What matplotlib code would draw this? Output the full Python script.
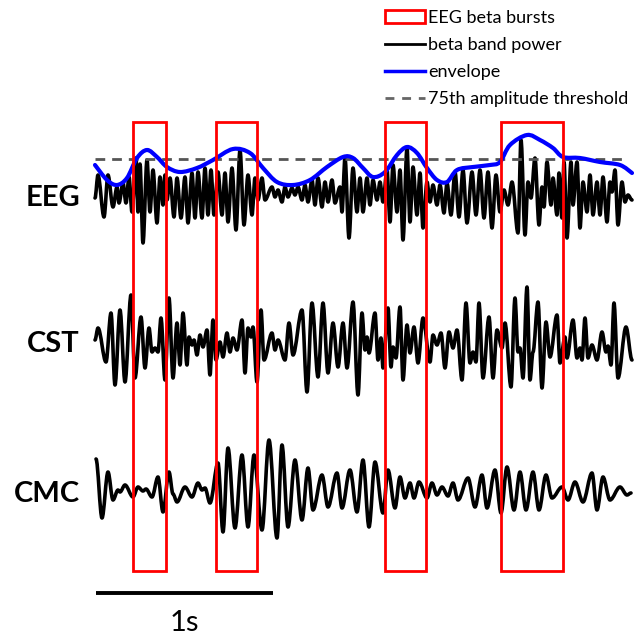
import matplotlib
matplotlib.use("Agg")
import matplotlib.pyplot as plt
from matplotlib.patches import Rectangle, Patch, PathPatch
from matplotlib.lines import Line2D
from matplotlib.path import Path

plt.rcParams['font.family'] = ['Lato', 'DejaVu Sans']

# ---------------- data (time in samples, fs = 177 Hz; amplitude in a.u.) ----------------
fs = 177

# EEG beta-band signal: successive peaks / troughs
eeg_t = [0, 3, 9, 13, 18, 22, 24, 28, 31, 34,
         37, 41, 43, 45, 48, 52, 55, 58, 62, 65,
         68, 70, 72, 75, 79, 82, 86, 90, 93, 97,
         100, 103, 107, 110, 113, 116, 119, 123, 127, 130,
         133, 137, 141, 145, 149, 153, 157, 160, 163, 167,
         170, 177, 180, 183, 187, 190, 193, 197, 200, 203,
         207, 210, 213, 217, 220, 223, 227, 230, 233, 237,
         240, 245, 247, 250, 254, 258, 262, 265, 268, 272,
         275, 278, 282, 285, 288, 292, 295, 298, 302, 305,
         308, 312, 315, 318, 322, 325, 328, 332, 335, 338,
         342, 345, 349, 352, 356, 360, 364, 368, 372, 377,
         381, 385, 389, 393, 397, 401, 405, 409, 413, 417,
         423, 426, 430, 433, 436, 440, 444, 447, 449, 452,
         456, 458, 462, 464, 467, 469, 472, 476, 478, 482,
         485, 488, 492, 495, 498, 502, 505, 508, 512, 515,
         517, 520, 523, 527, 530, 533, 537]
eeg_a = [0, 23, -19, 23, -9, 11, -5, 15, -5, 21,
         -14, 40, -14, 34, -45, 38, -14, 28, -25, 21,
         -7, 23, -2, 20, -19, 20, -20, 21, -25, 25,
         -20, 26, -20, 30, -17, 28, -17, 26, -17, 25,
         -24, 30, -32, 48, -27, 23, -17, 20, -2, 20,
         -2, 11, 1, 8, -4, 11, 1, 10, 3, 11,
         -2, 13, -4, 18, -7, 20, -9, 16, -4, 18,
         -5, 11, -14, 40, -40, 30, -14, 20, -14, 20,
         -7, 18, -2, 16, -4, 28, -24, 33, -14, 28,
         -42, 50, -24, 31, -17, 25, -30, 16, -4, 13,
         -7, 13, -15, 15, -17, 26, -19, 28, -25, 26,
         -17, 28, -20, 26, -30, 23, -14, 8, -7, 16,
         -35, 58, -37, 16, 0, 40, -27, 11, -9, 36,
         -7, 20, -17, 25, -20, 36, -40, 36, -7, 36,
         -30, 16, -14, 23, -17, 16, -17, 21, -24, 16,
         6, 28, -27, 16, -4, 3, -2]

env_t = [0, 12, 22, 32, 42, 52, 62, 72, 85, 102,
         118, 138, 155, 168, 182, 198, 215, 232, 248, 258,
         268, 278, 290, 302, 312, 322, 332, 342, 352, 362,
         378, 395, 405, 415, 432, 445, 458, 468, 485, 505,
         525, 537]
env_a = [33, 18, 13, 20, 40, 48, 41, 31, 26, 30,
         38, 49, 45, 30, 16, 13, 18, 31, 41, 40,
         30, 21, 26, 43, 51, 45, 30, 18, 16, 28,
         31, 33, 36, 53, 63, 58, 50, 41, 40, 36,
         33, 25]

threshold = 39
thr_span = [0, 530]

cst_t = [0, 3, 11, 16, 20, 25, 30, 36, 40, 46,
         50, 54, 57, 60, 63, 66, 70, 74, 78, 82,
         85, 88, 92, 94, 97, 99, 102, 105, 108, 112,
         115, 118, 121, 125, 128, 132, 135, 138, 142, 147,
         150, 153, 156, 158, 162, 166, 169, 177, 180, 183,
         190, 194, 198, 207, 212, 217, 223, 228, 233, 238,
         243, 248, 252, 258, 263, 267, 270, 272, 274, 280,
         283, 286, 288, 293, 296, 298, 301, 305, 308, 312,
         315, 319, 323, 328, 335, 338, 342, 346, 350, 354,
         358, 362, 367, 371, 375, 378, 381, 384, 388, 394,
         398, 402, 407, 410, 416, 420, 423, 425, 428, 432,
         435, 438, 443, 447, 451, 455, 462, 465, 470, 472,
         478, 482, 485, 487, 490, 493, 497, 502, 507, 511,
         513, 516, 519, 523, 531, 537]
cst_a = [2, 14, -20, 29, -43, 32, -40, 47, -36, 25,
         -26, 14, -10, -6, -10, 24, -38, 44, -36, 19,
         -23, 29, -23, 5, -3, 2, -13, 7, -5, 12,
         -33, 22, -18, 0, -15, 9, -10, 4, -8, 22,
         -31, 14, 5, 15, -40, 32, -18, 9, -8, 2,
         -18, 19, -13, 32, -50, 39, -35, 39, -31, 19,
         -25, 19, -26, 40, -53, 29, -8, 5, -11, 29,
         -18, 4, -26, 34, -25, -5, -16, 35, -38, 17,
         -11, 15, -21, 24, -20, 7, -3, 9, -26, 10,
         -6, 12, -38, 39, -21, -10, -20, 39, -36, 25,
         -36, 12, -6, 19, -45, 44, -10, -6, -36, 55,
         -38, -10, 40, -46, 20, -15, 27, -21, 5, -16,
         22, -16, -6, -18, 24, -16, -3, -18, 10, -10,
         -4, -23, 39, -36, 15, -18]

cmc_t = [1, 7, 13, 18, 23, 25, 30, 38, 43, 48,
         51, 57, 63, 68, 74, 78, 82, 90, 97, 103,
         107, 110, 115, 123, 128, 133, 140, 147, 153, 159,
         167, 174, 182, 187, 193, 200, 207, 213, 218, 227,
         233, 242, 247, 255, 262, 268, 274, 280, 288, 293,
         300, 305, 310, 315, 319, 324, 332, 337, 342, 347,
         353, 358, 363, 373, 380, 387, 392, 400, 406, 412,
         419, 425, 431, 438, 444, 451, 457, 467, 473, 480,
         488, 497, 502, 508, 515, 525, 532, 536]
cmc_a = [35, -24, 22, -6, 4, 2, 9, -3, 7, 3,
         5, -3, 17, -18, 22, 0, -8, 7, -3, 11,
         4, 6, -9, 31, -38, 46, -34, 39, -33, 39,
         -36, 54, -44, 49, -33, 34, -26, 26, -16, 19,
         -13, 21, -14, 24, -18, 34, -33, 32, -19, 24,
         -14, 17, -4, 11, -4, 12, -4, 11, -1, 7,
         -2, 11, -6, 16, -13, 19, -14, 24, -19, 27,
         -16, 22, -16, 22, -16, 19, -4, 7, -6, 12,
         -8, 21, -16, 17, -6, 7, -1, 1]

burst_start = [38, 121, 290, 406]
burst_end = [71, 162, 331, 468]

trace_names = ['EEG', 'CST', 'CMC']
legend_labels = ['EEG beta bursts', 'beta band power', 'envelope',
                 '75th amplitude threshold']


# ---------------- helpers: smooth curves drawn by matplotlib's Bezier paths ----------------
def extrema_path(t, a, off, k=0.34):
    """Curve through successive peaks/troughs with flat tangents at each extremum."""
    verts = [(t[0], a[0] + off)]
    codes = [Path.MOVETO]
    for i in range(len(t) - 1):
        dt = t[i + 1] - t[i]
        verts += [(t[i] + k * dt, a[i] + off),
                  (t[i + 1] - k * dt, a[i + 1] + off),
                  (t[i + 1], a[i + 1] + off)]
        codes += [Path.CURVE4] * 3
    return Path(verts, codes)


def catmull_path(t, a, off):
    pts = [(x, y + off) for x, y in zip(t, a)]
    verts = [pts[0]]
    codes = [Path.MOVETO]
    n = len(pts)
    for i in range(n - 1):
        p0 = pts[max(i - 1, 0)]
        p1 = pts[i]
        p2 = pts[i + 1]
        p3 = pts[min(i + 2, n - 1)]
        c1 = (p1[0] + (p2[0] - p0[0]) / 6, p1[1] + (p2[1] - p0[1]) / 6)
        c2 = (p2[0] - (p3[0] - p1[0]) / 6, p2[1] - (p3[1] - p1[1]) / 6)
        verts += [c1, c2, p2]
        codes += [Path.CURVE4] * 3
    return Path(verts, codes)


# ---------------- drawing ----------------
fig = plt.figure(figsize=(6.39, 6.37), dpi=100)
ax = fig.add_axes([0, 0, 1, 1])
ax.set_xlim(-95, 544)
ax.set_ylim(-439, 198)
ax.axis('off')

offsets = [0, -144, -296]
for tt, aa, off in zip([eeg_t, cst_t, cmc_t], [eeg_a, cst_a, cmc_a], offsets):
    ax.add_patch(PathPatch(extrema_path(tt, aa, off), fill=False,
                           edgecolor='black', lw=2.6, joinstyle='round',
                           capstyle='round', zorder=2))

ax.plot(thr_span, [offsets[0] + threshold] * 2, color='#555555', lw=2.0,
        linestyle=(0, (3.5, 2.5)), zorder=3)
ax.add_patch(PathPatch(catmull_path(env_t, env_a, offsets[0]), fill=False,
                       edgecolor='#0000ff', lw=3.0, joinstyle='round',
                       capstyle='round', zorder=4))

box_bottom, box_top = -373, 76
for s, e in zip(burst_start, burst_end):
    ax.add_patch(Rectangle((s, box_bottom), e - s, box_top - box_bottom,
                           fill=False, edgecolor='#ff0000', lw=2.0, zorder=5))

for name, off, dy in zip(trace_names, offsets, [0, -2, 0]):
    ax.text(-15, off + dy, name, ha='right', va='center', fontsize=21,
            fontweight='bold', color='black')

# scale bar: 1 s
ax.plot([1, 1 + fs], [-395, -395], color='black', lw=2.8, solid_capstyle='butt')
ax.text(1 + fs / 2, -425, '1s', ha='center', va='center', fontsize=21)

handles = [Patch(facecolor='white', edgecolor='#ff0000', lw=2.0),
           Line2D([], [], color='black', lw=2.0),
           Line2D([], [], color='#0000ff', lw=2.5),
           Line2D([], [], color='#666666', lw=2.0, linestyle=(0, (3.2, 2.8)))]
fig.legend(handles, legend_labels, loc='upper left',
           bbox_to_anchor=(385 / 639, 1 - 10 / 637), frameon=False,
           fontsize=13, handlelength=2.2, handletextpad=0.2,
           labelspacing=0.61, borderpad=0, borderaxespad=0)

fig.savefig('out.png', dpi=100)
